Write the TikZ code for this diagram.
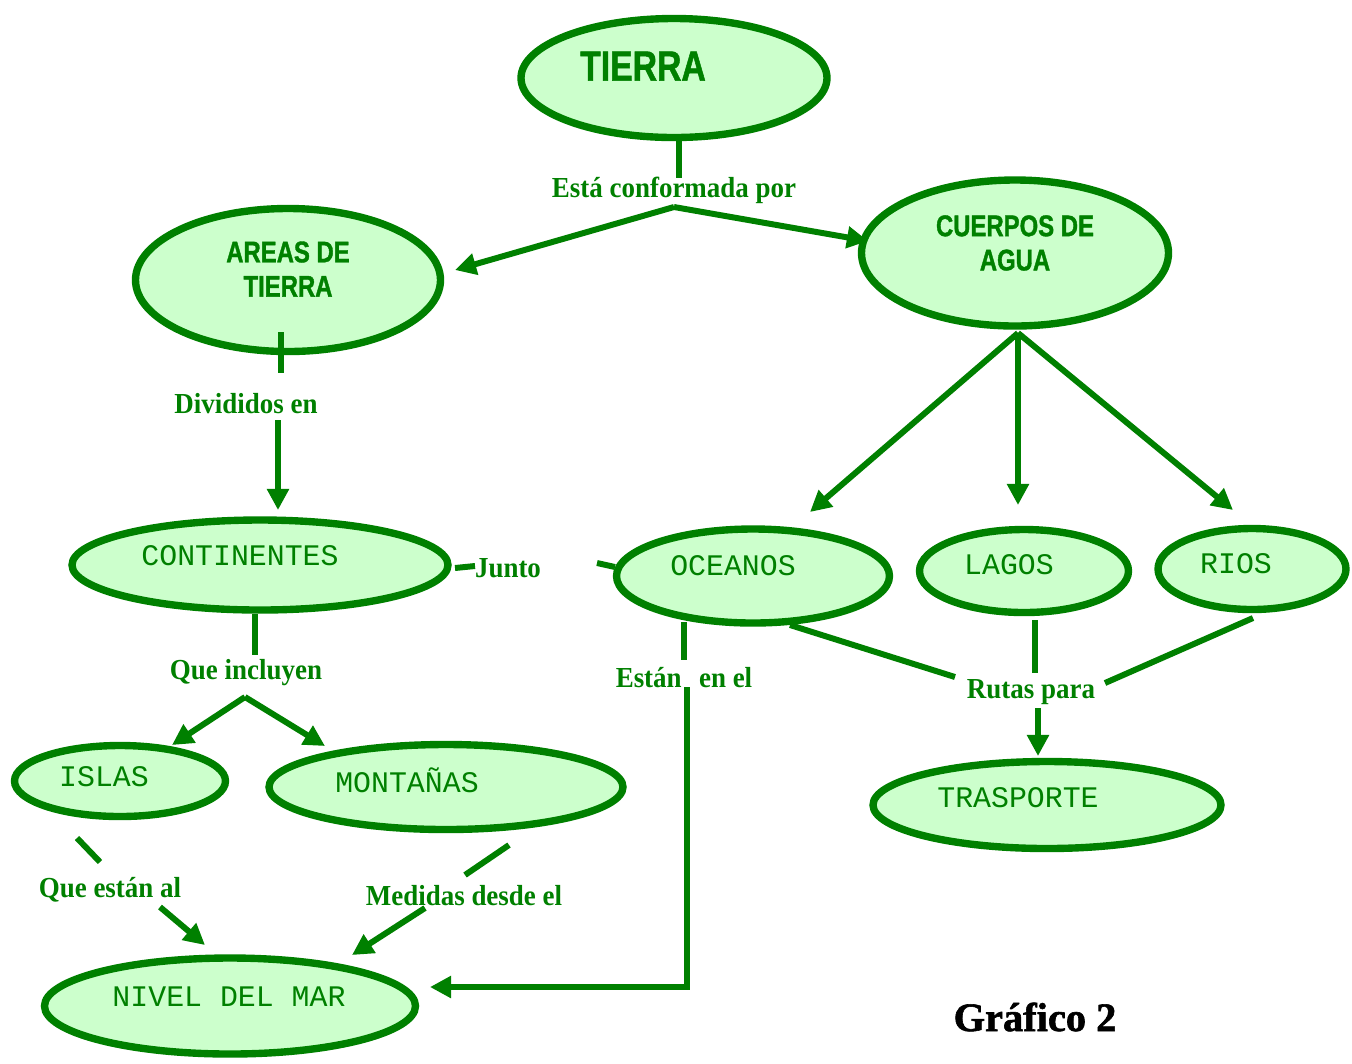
\documentclass[tikz,border=0pt]{standalone}
\usepackage{fontspec}
\setmainfont{Liberation Serif}
\newfontfamily\lblfont[FakeStretch=0.93]{Liberation Serif}
\newfontfamily\headfont[FakeStretch=0.8,FakeBold=1.2]{Liberation Sans}
\newfontfamily\ellfont{Liberation Mono}
\newfontfamily\grafont[FakeBold=1.5]{Liberation Serif}
\usetikzlibrary{shapes.geometric,arrows.meta}
\definecolor{dgreen}{RGB}{0,128,0}
\definecolor{lgreen}{RGB}{204,255,204}
\begin{document}
\begin{tikzpicture}[x=0.02cm,y=-0.02cm,
  ell/.style={ellipse,draw=dgreen,fill=lgreen,line width=4.2pt,inner sep=0pt},
  head/.style={text=dgreen,font=\headfont\bfseries\fontsize{17}{19.5}\selectfont,align=center,inner sep=0pt},
  mono/.style={text=dgreen,font=\ellfont\fontsize{17}{20}\selectfont,inner sep=0pt},
  lbl/.style={text=dgreen,font=\lblfont\bfseries\fontsize{16.5}{19}\selectfont,inner sep=0pt},
  conn/.style={draw=dgreen,line width=3.4pt},
  arr/.style={conn,-{Triangle[length=12pt,width=12pt]}}]
\useasboundingbox (0,0) rectangle (1352,1063);
% ellipses
\node[ell,minimum width=306*0.02cm,minimum height=119*0.02cm] (tierra) at (674,78) {};
\node[ell,minimum width=305*0.02cm,minimum height=143*0.02cm] (areas) at (288,280) {};
\node[ell,minimum width=307*0.02cm,minimum height=146*0.02cm] (cuerpos) at (1015,253) {};
\node[ell,minimum width=376*0.02cm,minimum height=90*0.02cm] (conti) at (260,565) {};
\node[ell,minimum width=273*0.02cm,minimum height=94*0.02cm] (oceanos) at (753,576) {};
\node[ell,minimum width=209*0.02cm,minimum height=83*0.02cm] (lagos) at (1024,571) {};
\node[ell,minimum width=188*0.02cm,minimum height=81*0.02cm] (rios) at (1252,569) {};
\node[ell,minimum width=211*0.02cm,minimum height=71*0.02cm] (islas) at (120,781) {};
\node[ell,minimum width=354*0.02cm,minimum height=85*0.02cm] (montanas) at (446,787) {};
\node[ell,minimum width=371*0.02cm,minimum height=96*0.02cm] (nivel) at (230,1006) {};
\node[ell,minimum width=348*0.02cm,minimum height=87*0.02cm] (trasporte) at (1047,805) {};
% ellipse texts
\node[head,font=\headfont\bfseries\fontsize{24}{26}\selectfont] (ttierra) at (643,66) {TIERRA};
\node[head] (tareas) at (288,269) {AREAS DE\\TIERRA};
\node[head] (tcuerpos) at (1015,243) {CUERPOS DE\\AGUA};
\node[mono] (tconti) at (240,556) {CONTINENTES};
\node[mono] (toceanos) at (733,566) {OCEANOS};
\node[mono] (tlagos) at (1009,565) {LAGOS};
\node[mono] (trios) at (1236,564) {RIOS};
\node[mono] (tislas) at (104,777) {ISLAS};
\node[mono] (tmontanas) at (407,780) {MONTAÑAS};
\node[mono] (tnivel) at (229,997) {NIVEL DEL MAR};
\node[mono] (ttrasporte) at (1018,798) {TRASPORTE};
% labels
\node[lbl] (conf) at (674,190) {Está conformada por};
\node[lbl] (div) at (246,404) {Divididos en};
\node[lbl] (junto) at (508,568) {Junto};
\node[lbl] (incl) at (246,673) {Que incluyen};
\node[lbl] (estanal) at (110,890) {Que están al};
\node[lbl] (medidas) at (464,896) {Medidas desde el};
\node[lbl] (estanen) at (684,678) {Están\hspace{0.6em}en el};
\node[lbl] (rutas) at (1031,692) {Rutas para};
\node[font=\grafont\bfseries\fontsize{23}{25}\selectfont,inner sep=0pt] (graf) at (1035,1017) {Gráfico 2};
% coordinates
\coordinate (c1) at (679,140);
\coordinate (c2) at (679,178);
\coordinate (c3) at (674,207);
\coordinate (a1) at (455,270);
\coordinate (a2) at (868,241);
\coordinate (c4) at (281,332);
\coordinate (c5) at (281,373);
\coordinate (c6) at (278,420);
\coordinate (a3) at (278,510);
\coordinate (c7) at (455,568);
\coordinate (c8) at (475,566);
\coordinate (c9) at (597,563);
\coordinate (c10) at (615,567);
\coordinate (c11) at (255,614);
\coordinate (c12) at (255,655);
\coordinate (c13) at (245,697);
\coordinate (a4) at (172,745);
\coordinate (a5) at (325,746);
\coordinate (c14) at (77,838);
\coordinate (c15) at (100,862);
\coordinate (c16) at (160,907);
\coordinate (a6) at (205,945);
\coordinate (c17) at (509,845);
\coordinate (c18) at (465,875);
\coordinate (c19) at (425,908);
\coordinate (a7) at (352,955);
\coordinate (c20) at (684,622);
\coordinate (c21) at (684,660);
\coordinate (c22) at (687,687);
\coordinate (c23) at (687,987);
\coordinate (a8) at (430,987);
\coordinate (c24) at (1018,333);
\coordinate (a9) at (810,512);
\coordinate (a10) at (1018,505);
\coordinate (a11) at (1233,510);
\coordinate (c25) at (790,625);
\coordinate (c26) at (955,677);
\coordinate (c27) at (1035,620);
\coordinate (c28) at (1035,673);
\coordinate (c29) at (1253,618);
\coordinate (c30) at (1105,683);
\coordinate (c31) at (1038,708);
\coordinate (a12) at (1038,756);
% connectors
\draw[conn] (c1) -- (c2);
\draw[arr] (c3) -- (a1);
\draw[arr] (c3) -- (a2);
\draw[conn] (c4) -- (c5);
\draw[arr] (c6) -- (a3);
\draw[conn] (c7) -- (c8);
\draw[conn] (c9) -- (c10);
\draw[conn] (c11) -- (c12);
\draw[arr] (c13) -- (a4);
\draw[arr] (c13) -- (a5);
\draw[conn] (c14) -- (c15);
\draw[arr] (c16) -- (a6);
\draw[conn] (c17) -- (c18);
\draw[arr] (c19) -- (a7);
\draw[conn] (c20) -- (c21);
\draw[arr] (c22) -- (c23) -- (a8);
\draw[arr] (c24) -- (a9);
\draw[arr] (c24) -- (a10);
\draw[arr] (c24) -- (a11);
\draw[conn] (c25) -- (c26);
\draw[conn] (c27) -- (c28);
\draw[conn] (c29) -- (c30);
\draw[arr] (c31) -- (a12);
\end{tikzpicture}
\end{document}
